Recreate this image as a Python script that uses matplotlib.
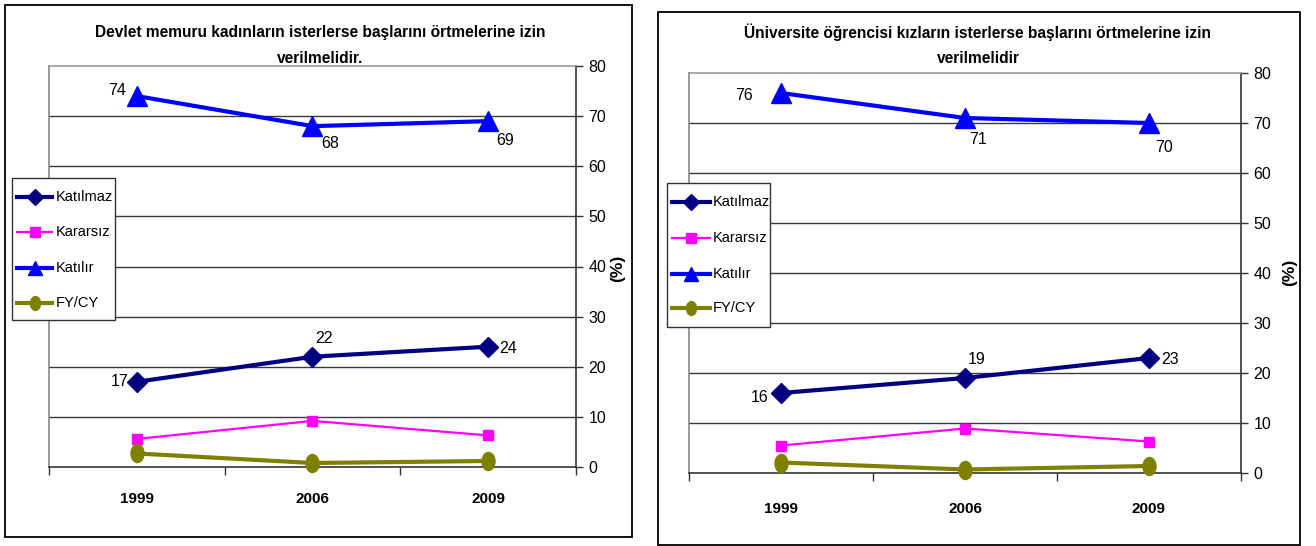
import matplotlib
matplotlib.use("Agg")
import matplotlib.pyplot as plt
from matplotlib import font_manager
from matplotlib.patches import Rectangle
from matplotlib.path import Path
from matplotlib.transforms import Affine2D
from matplotlib.lines import Line2D

# ---- data ----
years = ["1999", "2006", "2009"]
series_names = ["Katılmaz", "Kararsız", "Katılır", "FY/CY"]

memur_katilmaz = [17, 22, 24]
memur_kararsiz = [5.6, 9.2, 6.3]
memur_katilir = [74, 68, 69]
memur_fycy = [2.7, 0.8, 1.2]

ogrenci_katilmaz = [16, 19, 23]
ogrenci_kararsiz = [5.5, 8.9, 6.3]
ogrenci_katilir = [76, 71, 70]
ogrenci_fycy = [2.1, 0.7, 1.4]

title_memur = "Devlet memuru kadınların isterlerse başlarını örtmelerine izin\nverilmelidir."
title_ogrenci = "Üniversite öğrencisi kızların isterlerse başlarını örtmelerine izin\nverilmelidir"
y_ticks = list(range(0, 81, 10))

# ---- fonts ----
available = {f.name for f in font_manager.fontManager.ttflist}
FAM = ["Liberation Sans Narrow", "Liberation Sans", "DejaVu Sans"] if "Liberation Sans Narrow" in available \
    else ["Liberation Sans", "DejaVu Sans"]
plt.rcParams["font.family"] = FAM

W, H = 1316, 546
fig = plt.figure(figsize=(W / 100, H / 100), dpi=100)


def fx(px):
    return px / W


def fy(py):
    return 1 - py / H


ellipse = Path.unit_circle().transformed(Affine2D().scale(0.72, 1.0))

styles = {
    "Katılmaz": dict(color="#000080", marker="D", ms=10, lw=3.0, lms=8),
    "Kararsız": dict(color="#FF00FF", marker="s", ms=7, lw=1.6, lms=6.5),
    "Katılır": dict(color="#0000FF", marker="^", ms=14, lw=3.0, lms=10),
    "FY/CY": dict(color="#808000", marker=ellipse, ms=13, lw=3.0, lms=10),
}


def draw_legend(box, handle_x, text_x, rows):
    # boxed legend drawn in figure pixel positions
    x0, y0, x1, y1 = box
    fig.patches.append(Rectangle((fx(x0), fy(y1)), fx(x1 - x0), (y1 - y0) / H,
                                 transform=fig.transFigure, facecolor="white",
                                 edgecolor="#333333", lw=1.0, zorder=5))
    hx0, hx1 = handle_x
    for name, ry in zip(series_names, rows):
        st = styles[name]
        fig.lines.append(Line2D([fx(hx0), fx(hx1)], [fy(ry), fy(ry)],
                                transform=fig.transFigure, color=st["color"],
                                lw=st["lw"], zorder=6))
        fig.lines.append(Line2D([fx((hx0 + hx1) / 2)], [fy(ry)],
                                transform=fig.transFigure, color=st["color"],
                                marker=st["marker"], ms=st["lms"], mec=st["color"],
                                mfc=st["color"], lw=0, zorder=7))
        fig.text(fx(text_x), fy(ry), name, ha="left", va="center",
                 fontsize=10.5, zorder=8)


def panel(box, axbox, title, title_xy, data, labels, legend, ylab_x, ylab_y, year_pad):
    # outer frame of the chart
    x0, y0, x1, y1 = box
    fig.patches.append(Rectangle((fx(x0), fy(y1)), fx(x1 - x0), (y1 - y0) / H,
                                 transform=fig.transFigure, fill=False,
                                 edgecolor="black", lw=1.3))
    ax0, ay0, ax1, ay1 = axbox
    ax = fig.add_axes([fx(ax0), fy(ay1), fx(ax1 - ax0), (ay1 - ay0) / H])
    xs = list(range(len(years)))
    for name, vals in zip(series_names, data):
        st = styles[name]
        ax.plot(xs, vals, color=st["color"], lw=st["lw"], marker=st["marker"],
                ms=st["ms"], mec=st["color"], mfc=st["color"], clip_on=False,
                zorder=3)
    ax.set_xlim(-0.5, 2.5)
    ax.set_ylim(0, 80)
    ax.set_yticks(y_ticks)
    ax.yaxis.tick_right()
    ax.set_xticks([-0.5, 0.5, 1.5, 2.5])
    ax.set_xticks(xs, minor=True)
    ax.set_xticklabels([])
    ax.set_xticklabels(years, minor=True, fontweight="bold", fontsize=11)
    ax.tick_params(axis="x", which="major", direction="out", length=6, width=1, color="#333333")
    ax.tick_params(axis="x", which="minor", length=0, pad=year_pad)
    ax.tick_params(axis="y", direction="out", length=5, width=1, color="#333333",
                   labelsize=11.5, pad=4)
    for y in y_ticks[1:-1]:
        ax.axhline(y, color="#3a3a3a", lw=1.0, zorder=1)
    ax.spines["left"].set_color("#888888")
    ax.spines["top"].set_color("#999999")
    ax.spines["right"].set_color("#333333")
    ax.spines["bottom"].set_color("#333333")
    for s in ax.spines.values():
        s.set_linewidth(1.2)
    ax.set_facecolor("white")

    # value labels on Katılmaz and Katılır
    for vals, offs in labels:
        for i, (v, off) in enumerate(zip(vals, offs)):
            ax.annotate(f"{v:g}", (i, v), xytext=off, textcoords="offset pixels",
                        ha="center", va="center", fontsize=11.5, zorder=4)

    tx, ty = title_xy
    fig.text(fx(tx), fy(ty), title, ha="center", va="top",
             fontsize=11.2, fontweight="bold", linespacing=1.9)
    fig.text(fx(ylab_x), fy(ylab_y), "(%)", rotation=90, ha="center", va="center",
             fontsize=12.5, fontweight="bold")
    draw_legend(**legend)
    return ax


panel(box=(5, 5, 632, 537), axbox=(49, 66, 576, 467), title=title_memur,
      title_xy=(320, 25),
      data=[memur_katilmaz, memur_kararsiz, memur_katilir, memur_fycy],
      labels=[(memur_katilir, [(-20, 6), (18, -17), (17, -19)]),
              (memur_katilmaz, [(-17, 0), (12, 18), (20, -2)])],
      legend=dict(box=(12, 178, 115, 320), handle_x=(17, 52), text_x=56,
                  rows=[196.5, 232, 267.5, 303]),
      ylab_x=618, ylab_y=268, year_pad=18)

panel(box=(658, 12, 1300, 545), axbox=(689, 73, 1241, 473), title=title_ogrenci,
      title_xy=(978, 23),
      data=[ogrenci_katilmaz, ogrenci_kararsiz, ogrenci_katilir, ogrenci_fycy],
      labels=[(ogrenci_katilir, [(-37, -3), (13, -21), (15, -24)]),
              (ogrenci_katilmaz, [(-21, -4), (12, 19), (21, -2)])],
      legend=dict(box=(667, 183, 770, 327), handle_x=(672, 710), text_x=713,
                  rows=[202, 238, 274, 308]),
      ylab_x=1290, ylab_y=272, year_pad=21)

fig.savefig("out.png", dpi=100)
